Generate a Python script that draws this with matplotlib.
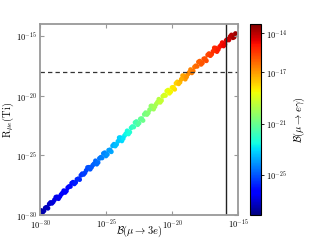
import numpy as np
import matplotlib
matplotlib.use("Agg")
import matplotlib.pyplot as plt
from matplotlib.colors import LogNorm

plt.rcParams['mathtext.fontset'] = 'cm'
plt.rcParams['font.family'] = ['DejaVu Serif']

# log10 values (scan points along the band)
x_log = [-30.0, -29.8, -29.6, -29.4, -29.2, -29.0, -28.8, -28.6, -28.4, -28.2,
         -28.0, -27.8, -27.6, -27.4, -27.2, -27.0, -26.8, -26.6, -26.4, -26.2,
         -26.0, -25.8, -25.6, -25.4, -25.2, -25.0, -24.8, -24.6, -24.4, -24.2,
         -24.0, -23.8, -23.6, -23.4, -23.2, -23.0, -22.8, -22.6, -22.4, -22.2,
         -22.0, -21.8, -21.6, -21.4, -21.2, -21.0, -20.8, -20.6, -20.4, -20.2,
         -20.0, -19.8, -19.6, -19.4, -19.2, -19.0, -18.8, -18.6, -18.4, -18.2,
         -18.0, -17.8, -17.6, -17.4, -17.2, -17.0, -16.8, -16.6, -16.4, -16.2,
         -16.0, -15.8, -15.6, -15.4, -15.2]
y_log = [-29.70, -29.77, -29.40, -29.43, -28.95, -28.90, -28.50, -28.63, -28.28, -27.96,
         -27.98, -27.61, -27.33, -27.39, -27.01, -27.03, -26.54, -26.47, -26.02, -26.16,
         -25.82, -25.46, -25.60, -25.16, -24.85, -25.05, -24.57, -24.70, -24.07, -24.08,
         -23.52, -23.79, -23.35, -22.95, -23.06, -22.59, -22.25, -22.43, -21.95, -22.08,
         -21.43, -21.44, -20.87, -21.13, -20.70, -20.30, -20.41, -19.95, -19.61, -19.80,
         -19.32, -19.47, -18.85, -18.88, -18.33, -18.62, -18.20, -17.82, -17.95, -17.50,
         -17.18, -17.38, -16.92, -17.08, -16.48, -16.53, -16.00, -16.31, -15.91, -15.56,
         -15.71, -15.28, -15.05, -15.15, -14.80]
c_log = [-27.73, -27.55, -27.37, -27.21, -27.03, -26.85, -26.70, -26.60, -26.48, -26.36,
         -26.24, -26.14, -26.02, -25.87, -25.72, -25.57, -25.43, -25.28, -25.13, -24.99,
         -24.86, -24.71, -24.58, -24.44, -24.31, -24.15, -23.97, -23.78, -23.60, -23.42,
         -23.23, -23.05, -22.78, -22.50, -22.23, -21.96, -21.68, -21.41, -21.19, -20.95,
         -20.73, -20.49, -20.27, -20.05, -19.81, -19.57, -19.33, -19.09, -18.86, -18.62,
         -18.37, -18.07, -17.77, -17.47, -17.24, -17.04, -16.85, -16.66, -16.46, -16.30,
         -16.17, -16.02, -15.89, -15.75, -15.60, -15.47, -15.29, -15.11, -14.93, -14.76,
         -14.58, -14.34, -14.10, -13.86, -13.63]

x_log_b = [-29.9, -29.7, -29.5, -29.3, -29.1, -28.9, -28.7, -28.5, -28.3, -28.1,
           -27.9, -27.7, -27.5, -27.3, -27.1, -26.9, -26.7, -26.5, -26.3, -26.1,
           -25.9, -25.7, -25.5, -25.3, -25.1, -24.9, -24.7, -24.5, -24.3, -24.1,
           -23.9, -23.7, -23.5, -23.3, -23.1, -22.9, -22.7, -22.5, -22.3, -22.1,
           -21.9, -21.7, -21.5, -21.3, -21.1, -20.9, -20.7, -20.5, -20.3, -20.1,
           -19.9, -19.7, -19.5, -19.3, -19.1, -18.9, -18.7, -18.5, -18.3, -18.1,
           -17.9, -17.7, -17.5, -17.3, -17.1, -16.9, -16.7, -16.5, -16.3, -16.1,
           -15.9, -15.7, -15.5, -15.3]
y_log_b = [-29.62, -29.65, -29.35, -29.07, -29.02, -28.72, -28.48, -28.46, -28.15, -28.11,
           -27.71, -27.61, -27.25, -27.27, -26.96, -26.67, -26.60, -26.26, -26.00, -26.00,
           -25.70, -25.74, -25.26, -25.22, -24.78, -24.92, -24.54, -24.20, -24.22, -23.83,
           -23.52, -23.59, -23.19, -23.21, -22.70, -22.63, -22.17, -22.30, -21.92, -21.57,
           -21.58, -21.18, -20.87, -20.93, -20.54, -20.56, -20.05, -19.99, -19.54, -19.67,
           -19.30, -18.97, -19.01, -18.63, -18.34, -18.43, -18.05, -18.09, -17.60, -17.55,
           -17.11, -17.26, -16.90, -16.59, -16.65, -16.29, -16.02, -16.13, -15.78, -15.84,
           -15.37, -15.34, -14.92, -15.10]
c_log_b = [-27.64, -27.46, -27.29, -27.12, -26.94, -26.78, -26.65, -26.54, -26.42, -26.30,
           -26.19, -26.08, -25.95, -25.80, -25.65, -25.50, -25.36, -25.21, -25.06, -24.93,
           -24.79, -24.65, -24.51, -24.38, -24.23, -24.06, -23.88, -23.69, -23.51, -23.33,
           -23.14, -22.92, -22.64, -22.37, -22.10, -21.82, -21.55, -21.30, -21.07, -20.84,
           -20.61, -20.38, -20.16, -19.93, -19.69, -19.45, -19.21, -18.98, -18.74, -18.50,
           -18.22, -17.92, -17.62, -17.36, -17.14, -16.95, -16.76, -16.56, -16.38, -16.24,
           -16.10, -15.96, -15.82, -15.68, -15.54, -15.38, -15.20, -15.02, -14.85, -14.67,
           -14.46, -14.22, -13.98, -13.75]

x_ticks = [1e-30, 1e-25, 1e-20, 1e-15]
x_ticklabels = [r'$10^{-30}$', r'$10^{-25}$', r'$10^{-20}$', r'$10^{-15}$']
y_ticks = [1e-30, 1e-25, 1e-20, 1e-15]
y_ticklabels = [r'$10^{-30}$', r'$10^{-25}$', r'$10^{-20}$', r'$10^{-15}$']
cb_ticks = [1e-25, 1e-21, 1e-17, 1e-14]
cb_ticklabels = [r'$10^{-25}$', r'$10^{-21}$', r'$10^{-17}$', r'$10^{-14}$']

R_bound = 1e-18          # dashed horizontal line
B3e_bound = 10 ** -15.93  # solid vertical line
c_min, c_max = 10 ** -28.1, 10 ** -13.24

x = 10 ** np.array(x_log + x_log_b)
y = 10 ** np.array(y_log + y_log_b)
c = 10 ** np.array(c_log + c_log_b)

fig = plt.figure(figsize=(3.2, 2.4), dpi=100)
ax = fig.add_axes([0.125, 0.104, 0.619, 0.796])
cax = fig.add_axes([0.781, 0.104, 0.0334, 0.798])

sc = ax.scatter(x, y, c=c, cmap='jet', norm=LogNorm(vmin=c_min, vmax=c_max),
                s=12, marker='o', linewidths=0)
ax.axhline(R_bound, color='#333333', ls=(0, (3.5, 2.5)), lw=0.9)
ax.axvline(B3e_bound, color='#222222', lw=1.0)

ax.set_xscale('log')
ax.set_yscale('log')
ax.set_xlim(1e-30, 1e-15)
ax.set_ylim(1e-30, 1e-14)
ax.set_xticks(x_ticks)
ax.set_xticklabels(x_ticklabels)
ax.set_yticks(y_ticks)
ax.set_yticklabels(y_ticklabels)
ax.minorticks_off()
ax.tick_params(which='both', direction='in', top=True, right=True, length=3,
               width=0.8, color='#999999', labelsize=6, pad=2)
for sp in ax.spines.values():
    sp.set_color('#999999')
    sp.set_linewidth(1.3)

ax.set_xlabel(r'$\mathcal{B}(\mu\to 3e)$', fontsize=7.5)
ax.xaxis.set_label_coords(0.5, -0.045)
ax.set_ylabel(r'$\mathrm{R}_{\mu e}\mathrm{(Ti)}$', fontsize=7.5)
ax.yaxis.set_label_coords(-0.12, 0.5)

cb = fig.colorbar(sc, cax=cax)
cb.set_ticks(cb_ticks)
cb.set_ticklabels(cb_ticklabels)
cb.ax.minorticks_off()
cb.ax.tick_params(labelsize=6, length=2, width=0.6, pad=2)
cb.outline.set_linewidth(0.8)
cb.set_label(r'$\mathcal{B}(\mu\to e\gamma)$', fontsize=7.5, labelpad=3)

fig.savefig('out.png', dpi=100)
